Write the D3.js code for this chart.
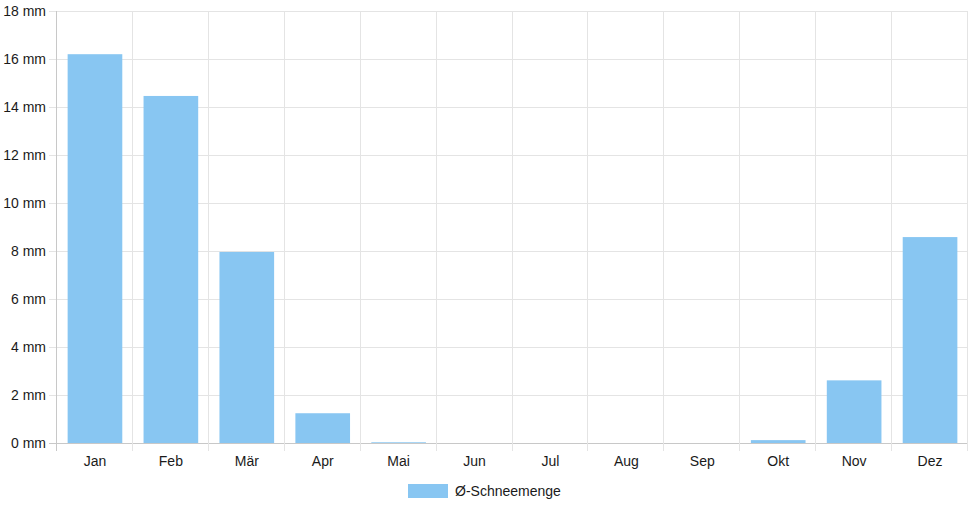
<!DOCTYPE html>
<html>
<head>
<meta charset="utf-8">
<script src="https://cdn.jsdelivr.net/npm/d3@7"></script>
<style>
  body { margin: 0; background: #fff; }
  svg { display: block; font-family: "Liberation Sans", Arial, sans-serif; }
</style>
</head>
<body>
<svg id="chart"></svg>
<script>
const months = ['Jan', 'Feb', 'Mär', 'Apr', 'Mai', 'Jun', 'Jul', 'Aug', 'Sep', 'Okt', 'Nov', 'Dez']
const snow = [16.2, 14.46, 7.96, 1.24, 0.03, 0, 0, 0, 0, 0.12, 2.61, 8.58]
const yTicks = [0, 2, 4, 6, 8, 10, 12, 14, 16, 18]
const seriesName = 'Ø-Schneemenge'

const width = 968
const height = 508
const plotLeft = 57
const plotRight = 968
const plotTop = 11
const plotBottom = 443
const barColor = '#88c6f2'

const svg = d3.select('#chart').attr('width', width).attr('height', height)

const x = d3.scaleBand().domain(months).range([plotLeft, plotRight])
const y = d3.scaleLinear().domain([0, 18]).range([plotBottom, plotTop])

// horizontal grid
svg.append('g')
  .selectAll('line')
  .data(yTicks)
  .enter()
  .append('line')
  .attr('x1', plotLeft - 8)
  .attr('x2', plotRight)
  .attr('y1', (d) => Math.round(y(d)) + 0.5)
  .attr('y2', (d) => Math.round(y(d)) + 0.5)
  .attr('stroke', (d) => (d === 0 ? '#c8c8c8' : '#e4e4e4'))
  .attr('stroke-width', 1)

// vertical grid (band boundaries)
const bounds = months.map((m) => x(m)).concat([plotRight])
svg.append('g')
  .selectAll('line')
  .data(bounds)
  .enter()
  .append('line')
  .attr('x1', (d) => Math.round(d) - 0.5)
  .attr('x2', (d) => Math.round(d) - 0.5)
  .attr('y1', plotTop)
  .attr('y2', plotBottom + 8)
  .attr('stroke', (d, i) => (i === 0 ? '#c8c8c8' : '#e4e4e4'))
  .attr('stroke-width', 1)

// y labels
svg.append('g')
  .selectAll('text')
  .data(yTicks)
  .enter()
  .append('text')
  .attr('x', plotLeft - 11)
  .attr('y', (d) => y(d))
  .attr('dy', '0.35em')
  .attr('text-anchor', 'end')
  .attr('font-size', 14)
  .attr('fill', '#1a1a1a')
  .text((d) => d + ' mm')

// x labels
svg.append('g')
  .selectAll('text')
  .data(months)
  .enter()
  .append('text')
  .attr('x', (d) => x(d) + x.bandwidth() / 2)
  .attr('y', plotBottom + 18)
  .attr('dy', '0.35em')
  .attr('text-anchor', 'middle')
  .attr('font-size', 14)
  .attr('fill', '#1a1a1a')
  .text((d) => d)

// bars
const barW = x.bandwidth() * 0.72
svg.append('g')
  .selectAll('rect')
  .data(snow)
  .enter()
  .append('rect')
  .attr('x', (d, i) => x(months[i]) + (x.bandwidth() - barW) / 2)
  .attr('y', (d) => y(d))
  .attr('width', barW)
  .attr('height', (d) => plotBottom - y(d))
  .attr('fill', barColor)

// legend
const legend = svg.append('g').attr('transform', 'translate(408,484)')
legend.append('rect')
  .attr('width', 40)
  .attr('height', 14)
  .attr('fill', barColor)
legend.append('text')
  .attr('x', 47)
  .attr('y', 7)
  .attr('dy', '0.35em')
  .attr('font-size', 14)
  .attr('fill', '#1a1a1a')
  .text(seriesName)
</script>
</body>
</html>
